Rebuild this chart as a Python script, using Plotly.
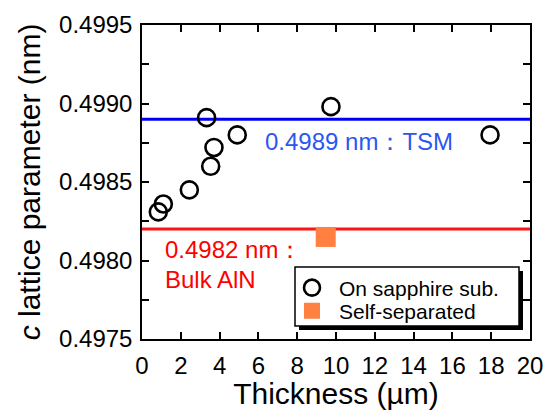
import plotly.graph_objects as go

# Data
thick_sapphire = [0.84, 1.10, 2.44, 3.33, 3.54, 3.71, 4.91, 9.74, 17.94]
c_sapphire = [0.49831, 0.49836, 0.49845, 0.49891, 0.49860, 0.49872, 0.49880, 0.49898, 0.49880]
thick_self = [9.47]
c_self = [0.49815]
tsm_value = 0.4989
bulk_value = 0.4982
x_span = [0, 20]
y_ticks = [0.4975, 0.4980, 0.4985, 0.4990, 0.4995]
x_ticks = [0, 2, 4, 6, 8, 10, 12, 14, 16, 18, 20]

FONT = "Liberation Sans, Arial, Helvetica, sans-serif"

fig = go.Figure()
fig.add_trace(go.Scatter(x=x_span, y=[tsm_value] * 2, mode="lines",
                         line=dict(color="#0000ee", width=3), showlegend=False, hoverinfo="skip"))
fig.add_trace(go.Scatter(x=x_span, y=[bulk_value] * 2, mode="lines",
                         line=dict(color="#ff1414", width=3), showlegend=False, hoverinfo="skip"))
fig.add_trace(go.Scatter(x=thick_sapphire, y=c_sapphire, mode="markers", name="On sapphire sub.",
                         legend="legend",
                         marker=dict(symbol="circle-open", size=17, color="black",
                                     line=dict(width=2.6, color="black"))))
fig.add_trace(go.Scatter(x=thick_self, y=c_self, mode="markers", name="Self-separated",
                         legend="legend2",
                         marker=dict(symbol="square", size=20, color="#ff8040",
                                     line=dict(width=0))))

fig.add_annotation(x=6.24, y=0.498761, xref="x", yref="y", text="0.4989 nm：TSM",
                   showarrow=False, xanchor="left", yanchor="middle",
                   font=dict(family=FONT, size=24, color="#2b57f0"))
fig.add_annotation(x=1.08, y=0.498073, xref="x", yref="y", text="0.4982 nm：",
                   showarrow=False, xanchor="left", yanchor="middle",
                   font=dict(family=FONT, size=24, color="#ff0000"))
fig.add_annotation(x=1.08, y=0.497876, xref="x", yref="y", text="Bulk AlN",
                   showarrow=False, xanchor="left", yanchor="middle",
                   font=dict(family=FONT, size=24, color="#ff0000"))

W, H = 544, 410
L, R, T, B = 142, 14, 25, 71
pw, ph = W - L - R, H - T - B

def px(xp):
    return (xp - L) / pw

def py(yp):
    return (H - B - yp) / ph

# legend box with drop shadow
fig.add_shape(type="rect", xref="paper", yref="paper", layer="above",
              x0=px(299), x1=px(523), y0=py(330), y1=py(271),
              fillcolor="black", line=dict(width=0))
fig.add_shape(type="rect", xref="paper", yref="paper", layer="above",
              x0=px(295), x1=px(519), y0=py(326), y1=py(267),
              fillcolor="white", line=dict(color="black", width=1.5))

axis_common = dict(showline=True, linecolor="black", linewidth=1.5, mirror="ticks",
                   ticks="inside", ticklen=7, tickwidth=1.5, tickcolor="black",
                   showgrid=False, zeroline=False, automargin=False,
                   tickfont=dict(family=FONT, size=24, color="black"))

fig.update_xaxes(range=[0, 20], tickvals=x_ticks, ticktext=[str(v) for v in x_ticks],
                 title=dict(text="Thickness (µm)", font=dict(family=FONT, size=30, color="black"),
                            standoff=6),
                 ticklabelstandoff=4, **axis_common)
fig.update_yaxes(range=[0.4975, 0.4995], tickvals=y_ticks, tickformat=".4f",
                 minor=dict(dtick=0.00025, tick0=0.4975, ticks="inside", ticklen=7,
                            tickwidth=1.5, tickcolor="black", showgrid=False),
                 title=dict(text="<i>c</i> lattice parameter (nm)",
                            font=dict(family=FONT, size=30, color="black"), standoff=10),
                 ticklabelstandoff=3, **axis_common)

legend_common = dict(xanchor="left", yanchor="middle", bgcolor="rgba(0,0,0,0)", borderwidth=0,
                     font=dict(family=FONT, size=21, color="black"), itemwidth=44)

fig.update_layout(
    width=W, height=H,
    margin=dict(l=L, r=R, t=T, b=B, pad=0),
    paper_bgcolor="white", plot_bgcolor="white",
    font=dict(family=FONT, color="black"),
    legend=dict(x=px(285), y=py(288), **legend_common),
    legend2=dict(x=px(285), y=py(311), **legend_common),
)

fig.write_html("out.html", config={"displayModeBar": False},
               post_script="document.body.style.margin='0';")
